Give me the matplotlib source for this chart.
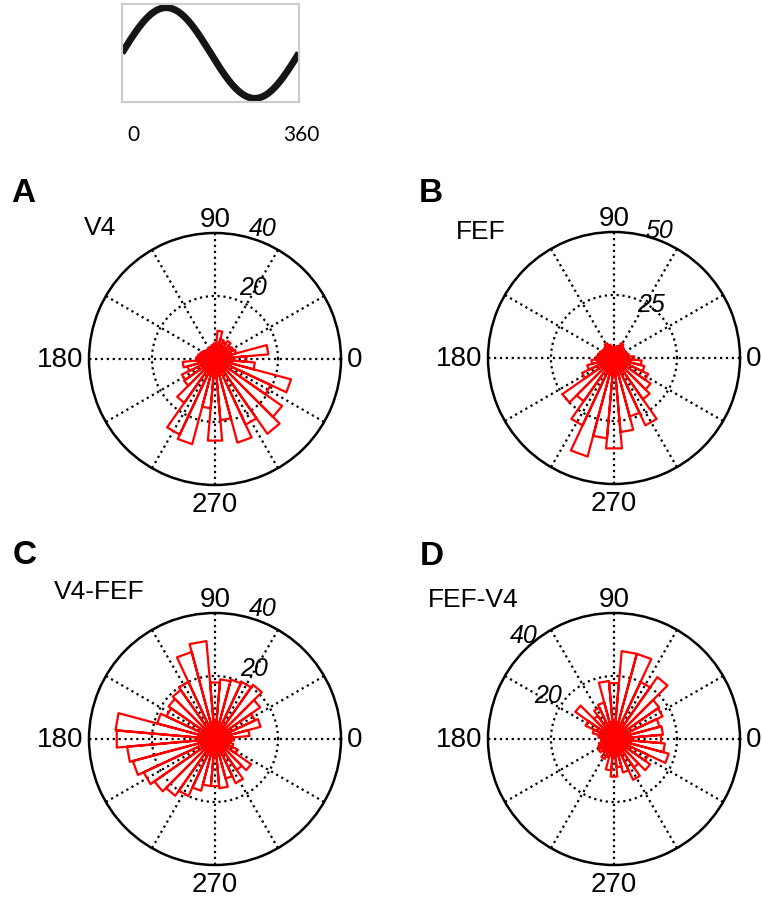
import numpy as np
import matplotlib.pyplot as plt

plt.rcParams['font.family'] = ['Liberation Sans', 'DejaVu Sans']

# rose plot bins: 36 bins of 10 deg, centred on 0, 10, ... 350
bin_centres = np.arange(0, 360, 10)

v4_counts = [10, 17, 7, 6.5, 6, 7, 6, 6.5, 9, 5, 4.5, 4, 4, 3.5, 4, 4.5, 5, 5.5,
             6, 10.3, 9, 11.6, 12, 17, 26.5, 28, 15.7, 26, 19.5, 27.5, 23, 29, 26, 19.5, 25, 12.7]
fef_counts = [8, 6, 5.5, 5, 5, 5.5, 6.5, 5, 4.5, 4, 4.5, 5.5, 6.5, 5.5, 5, 5.5, 6, 6.5,
              7, 9, 11, 14, 25, 21, 29.5, 40.5, 32, 36, 29.5, 24, 29.5, 20, 17.7, 15, 12.5, 11]
v4_fef_counts = [6, 11, 15, 14, 17.5, 21, 20, 19.5, 19, 18, 31.2, 28.6, 20, 19, 18, 17, 19, 31.7,
                 31.3, 28, 27, 25, 23.5, 22, 20, 17, 15, 15, 15.7, 13, 15.5, 12, 14, 8, 6, 5]
fef_v4_counts = [15, 15.6, 15, 17, 17.5, 24, 20, 28, 28, 17.8, 18.5, 12, 11, 9, 15, 10, 7, 5,
                 4, 4, 5, 5.5, 6, 5, 7, 6, 10, 12, 9, 11, 14.3, 11, 14, 12, 18, 16.2]

panel_letters = ['A', 'B', 'C', 'D']
panel_titles = ['V4', 'FEF', 'V4-FEF', 'FEF-V4']
panel_rmax = [40, 50, 40, 40]
angle_labels = ['0', '90', '180', '270']
sine_labels = ['0', '360']

W, H = 762, 903
fig = plt.figure(figsize=(W / 100, H / 100), dpi=100)


def fx(px):
    return px / W


def fy(py):
    return 1 - py / H


# top inset: one cycle of the reference sine
sax = fig.add_axes([fx(122), fy(103), fx(177), 98 / H])
phase = np.linspace(0, 360, 400)
sax.plot(phase, np.sin(np.deg2rad(phase)), color='#151515', lw=5, solid_capstyle='butt')
sax.set_xlim(0, 360)
sax.set_ylim(-1.08, 1.08)
sax.set_xticks([])
sax.set_yticks([])
for sp in sax.spines.values():
    sp.set_color('#cccccc')
    sp.set_linewidth(1.5)
fig.text(fx(133), fy(135), sine_labels[0], ha='center', va='center', fontsize=15, family='Lato')
fig.text(fx(301), fy(135), sine_labels[1], ha='center', va='center', fontsize=15, family='Lato')


def rose(ax, counts):
    half = np.deg2rad(5)
    th, r = [], []
    for c, n in zip(np.deg2rad(bin_centres), counts):
        th += [c - half, c - half, c + half, c + half, np.nan]
        r += [0, n, n, 0, np.nan]
    ax.plot(th, r, color='red', lw=1.6, zorder=3)


# layout per panel: centre (px), letter pos, title pos, radial label (angle, r frac)
centres = [(215, 360), (614, 359), (215, 740), (614, 740)]
radius = 126
letter_pos = [(11, 194), (419, 194), (13, 556), (420, 557)]
title_pos = [(84, 228), (456, 232), (54, 592), (428, 600)]
rlab_pos = [[(70, 1.11), (62, 0.65)], [(70.5, 1.08), (56, 0.52)],
            [(70, 1.11), (61, 0.64)], [(131, 1.09), (146, 0.63)]]
counts_all = [v4_counts, fef_counts, v4_fef_counts, fef_v4_counts]

for i in range(4):
    cx, cy = centres[i]
    rmax = panel_rmax[i]
    ax = fig.add_axes([fx(cx - radius), fy(cy + radius), 2 * radius / W, 2 * radius / H],
                      projection='polar')
    ax.set_ylim(0, rmax)
    ax.set_thetagrids(np.arange(0, 360, 30), labels=[''] * 12)
    ax.set_rgrids([rmax / 2], labels=[''])
    ax.grid(True, color='k', linestyle=':', linewidth=1.6)
    ax.spines['polar'].set_linewidth(1.8)
    ax.spines['polar'].set_color('k')
    ax.tick_params(length=0)

    rose(ax, counts_all[i])

    # angle labels around the circle
    ax.annotate(angle_labels[0], xy=(0, rmax), xytext=(4, 0), textcoords='offset points',
                ha='left', va='center', fontsize=20, annotation_clip=False)
    ax.annotate(angle_labels[1], xy=(np.pi / 2, rmax), xytext=(0, 1), textcoords='offset points',
                ha='center', va='bottom', fontsize=20, annotation_clip=False)
    ax.annotate(angle_labels[2], xy=(np.pi, rmax), xytext=(-4, 0), textcoords='offset points',
                ha='right', va='center', fontsize=20, annotation_clip=False)
    ax.annotate(angle_labels[3], xy=(1.5 * np.pi, rmax), xytext=(0, -4), textcoords='offset points',
                ha='center', va='top', fontsize=20, annotation_clip=False)

    # radial scale labels (full and half)
    for (ang, frac), val in zip(rlab_pos[i], [rmax, rmax // 2]):
        ax.text(np.deg2rad(ang), frac * rmax, str(val), style='italic', fontsize=18,
                ha='center', va='center')

    fig.text(fx(letter_pos[i][0]), fy(letter_pos[i][1]), panel_letters[i],
             fontsize=24, fontweight='bold', ha='left', va='center')
    fig.text(fx(title_pos[i][0]), fy(title_pos[i][1]), panel_titles[i],
             fontsize=19, ha='left', va='center')

fig.savefig('out.png', dpi=100)
